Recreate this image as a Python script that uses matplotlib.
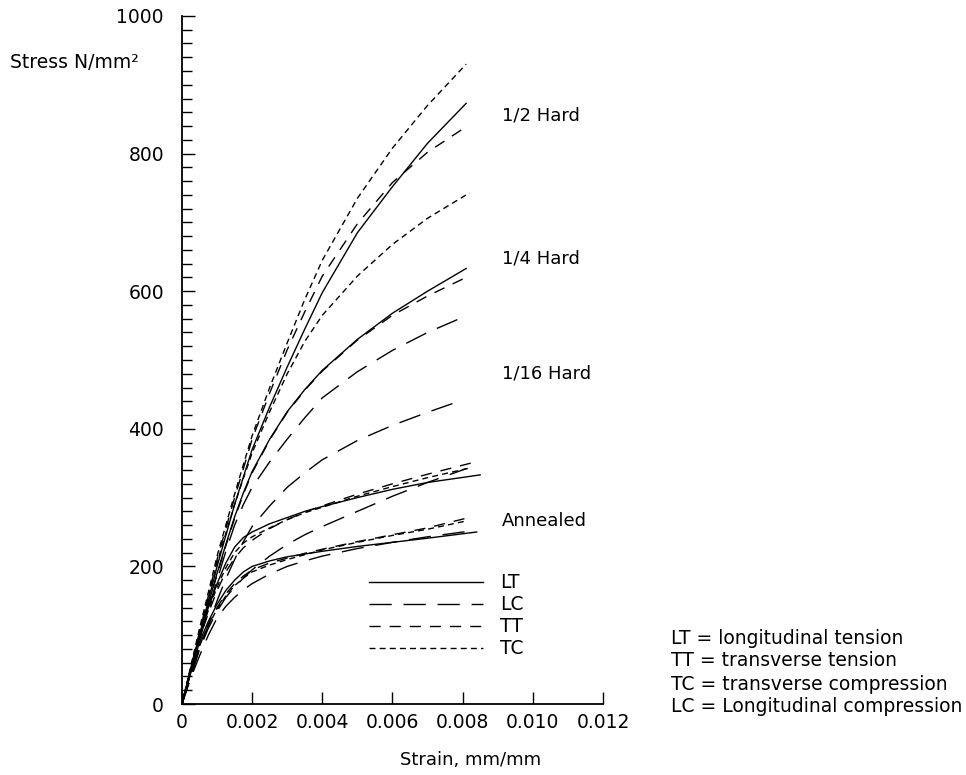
import matplotlib
matplotlib.use("Agg")
import matplotlib.pyplot as plt
from matplotlib.ticker import MultipleLocator

plt.rcParams['font.family'] = ['DejaVu Sans']
plt.rcParams['lines.scale_dashes'] = False

# strain points shared by all curves (last point of each curve is given separately)
strain = [0, 0.00025, 0.0005, 0.00075, 0.001, 0.00125, 0.0015, 0.00175, 0.002,
          0.0025, 0.003, 0.0035, 0.004, 0.005, 0.006, 0.007]

tempers = ['1/2 Hard', '1/4 Hard', '1/16 Hard', 'Annealed']
tests = ['LT', 'LC', 'TT', 'TC']

# stress N/mm2, one list per temper and test
half_lt = [0, 50, 100, 150, 200, 245, 290, 330, 370, 432, 490, 545, 598, 685, 752, 815, 873]
half_lc = [0, 45, 92, 138, 180, 222, 260, 290, 315, 352, 385, 416, 445, 483, 514, 540, 562]
half_tt = [0, 52, 105, 157, 210, 255, 300, 342, 385, 452, 515, 570, 622, 698, 758, 802, 839]
half_tc = [0, 55, 110, 162, 215, 260, 305, 348, 390, 460, 525, 588, 645, 735, 808, 870, 930]
half_end = [0.0081, 0.0080, 0.0081, 0.0081]

quarter_lt = [0, 50, 100, 145, 190, 232, 272, 307, 338, 385, 425, 457, 485, 530, 568, 600, 633]
quarter_lc = [0, 40, 80, 115, 150, 182, 210, 236, 258, 288, 315, 336, 355, 383, 405, 424, 440]
quarter_tt = [0, 50, 100, 144, 188, 230, 270, 305, 336, 384, 424, 456, 484, 529, 565, 593, 620]
quarter_tc = [0, 52, 105, 155, 205, 248, 290, 328, 365, 425, 480, 527, 565, 622, 668, 706, 743]
quarter_end = [0.0081, 0.0079, 0.0081, 0.0082]

sixteenth_lt = [0, 52, 100, 140, 175, 205, 228, 242, 250, 262, 271, 280, 287, 300, 312, 322, 333]
sixteenth_lc = [0, 40, 80, 110, 135, 155, 170, 183, 195, 215, 232, 246, 258, 280, 302, 322, 342]
sixteenth_tt = [0, 48, 95, 132, 165, 192, 212, 227, 238, 255, 268, 279, 288, 305, 320, 334, 351]
sixteenth_tc = [0, 50, 98, 136, 170, 198, 220, 234, 243, 256, 268, 278, 286, 302, 316, 329, 343]
sixteenth_end = [0.0085, 0.0081, 0.0083, 0.0082]

annealed_lt = [0, 48, 90, 120, 145, 165, 180, 192, 200, 208, 214, 218, 222, 229, 235, 241, 250]
annealed_lc = [0, 38, 70, 100, 125, 142, 155, 166, 175, 189, 200, 208, 215, 226, 235, 243, 252]
annealed_tt = [0, 45, 85, 115, 140, 160, 175, 186, 195, 205, 212, 219, 225, 236, 246, 256, 270]
annealed_tc = [0, 45, 85, 114, 138, 157, 172, 183, 192, 202, 210, 217, 224, 235, 245, 254, 266]
annealed_end = [0.0084, 0.0083, 0.0081, 0.0081]

label_stress = [856, 648, 481, 266]

x_ticks = [0, 0.002, 0.004, 0.006, 0.008, 0.010, 0.012]
x_tick_labels = ['0', '0.002', '0.004', '0.006', '0.008', '0.010', '0.012']
y_ticks = [0, 200, 400, 600, 800, 1000]

explain = ['LT = longitudinal tension', 'TT = transverse tension',
           'TC = transverse compression', 'LC = Longitudinal compression']

curves = {
    '1/2 Hard': ([half_lt, half_lc, half_tt, half_tc], half_end),
    '1/4 Hard': ([quarter_lt, quarter_lc, quarter_tt, quarter_tc], quarter_end),
    '1/16 Hard': ([sixteenth_lt, sixteenth_lc, sixteenth_tt, sixteenth_tc], sixteenth_end),
    'Annealed': ([annealed_lt, annealed_lc, annealed_tt, annealed_tc], annealed_end),
}

# line style per test type (dash lengths in points)
dash_styles = {'LT': '-', 'LC': (0, (16, 8.5)), 'TT': (0, (8, 6.5)), 'TC': (0, (4.3, 3))}

fig = plt.figure(figsize=(9.66, 7.75), dpi=100)
ax = fig.add_axes([0.1884, 0.0916, 0.6242 - 0.1884, 0.9794 - 0.0916])

handles = {}
for temper in tempers:
    stresses, ends = curves[temper]
    for test, stress, end in zip(tests, stresses, ends):
        line, = ax.plot(strain + [end], stress, color='black', lw=1.0,
                        linestyle=dash_styles[test])
        handles.setdefault(test, line)

for temper, ys in zip(tempers, label_stress):
    ax.text(0.00912, ys, temper, fontsize=13, va='center', ha='left')

ax.set_xlim(0, 0.012)
ax.set_ylim(0, 1000)
ax.set_xticks(x_ticks)
ax.set_xticklabels(x_tick_labels)
ax.set_yticks(y_ticks)
ax.yaxis.set_minor_locator(MultipleLocator(20))
ax.tick_params(axis='x', direction='in', length=8.5, width=1, pad=6.5, labelsize=13.5)
ax.tick_params(axis='y', which='major', direction='in', length=9.5, width=1, pad=13, labelsize=13.5)
ax.tick_params(axis='y', which='minor', direction='in', length=7, width=1)
for side in ['top', 'right']:
    ax.spines[side].set_visible(False)
for side in ['left', 'bottom']:
    ax.spines[side].set_linewidth(1.3)

ax.legend([handles[t] for t in tests], tests, frameon=False, fontsize=13.5,
          handlelength=6.1, handletextpad=0.9, labelspacing=0.16,
          loc='upper left', bbox_to_anchor=(0.3816, 0.260), bbox_transform=fig.transFigure,
          borderpad=0, borderaxespad=0)

fig.text(0.0104, 0.92, 'Stress N/mm²', fontsize=13.5, va='center', ha='left')
fig.text(0.487, 0.019, 'Strain, mm/mm', fontsize=13, va='center', ha='center')
for i, txt in enumerate(explain):
    fig.text(0.695, (775 - 638 - 23 * i) / 775, txt, fontsize=13.5, va='center', ha='left')

fig.savefig('out.png', dpi=100)
